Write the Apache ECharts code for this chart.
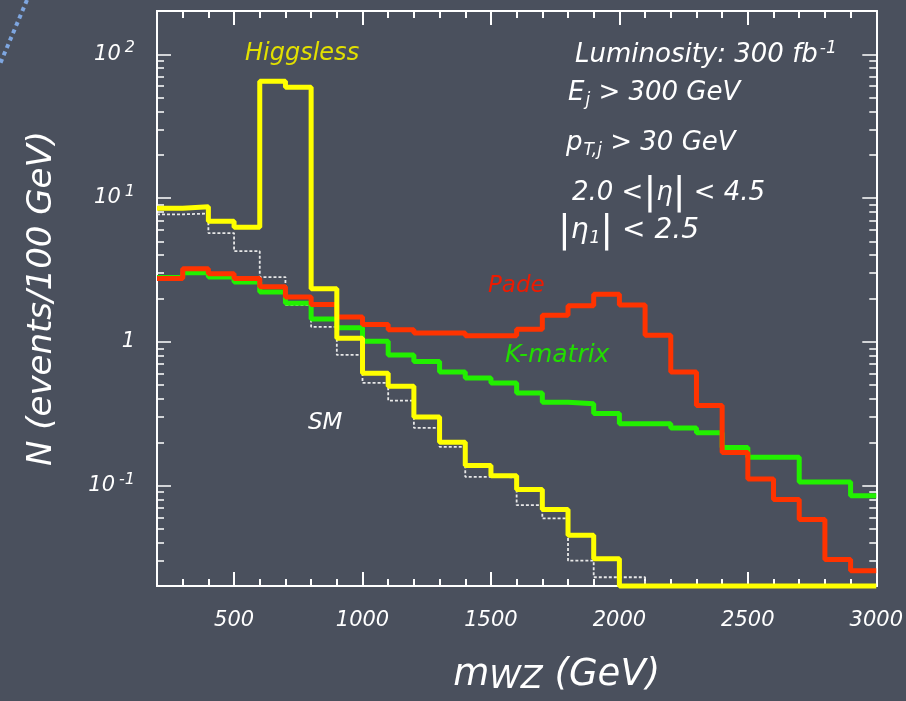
<!DOCTYPE html>
<html>
<head>
<meta charset="utf-8">
<script src="https://cdn.jsdelivr.net/npm/echarts@6/dist/echarts.min.js"></script>
<style>
  html, body { margin: 0; padding: 0; background: #4a505d; }
  #chart { width: 906px; height: 701px; }
</style>
</head>
<body>
<div id="chart"></div>
<script>
// bin edges (GeV), 100 GeV bins from 200 to 3000
var edges = [200, 300, 400, 500, 600, 700, 800, 900, 1000, 1100, 1200, 1300, 1400, 1500,
  1600, 1700, 1800, 1900, 2000, 2100, 2200, 2300, 2400, 2500, 2600, 2700, 2800, 2900, 3000];

// events / 100 GeV, one value per bin (0.02 = at the floor of the plot)
var higgsless = [8.5, 8.7, 6.9, 6.25, 65, 59, 2.34, 1.06, 0.605, 0.49, 0.30, 0.20, 0.138, 0.117,
  0.094, 0.068, 0.045, 0.031, 0.02, 0.02, 0.02, 0.02, 0.02, 0.02, 0.02, 0.02, 0.02, 0.02];
var sm = [7.7, 7.8, 5.7, 4.27, 2.82, 1.8, 1.27, 0.81, 0.517, 0.39, 0.252, 0.186, 0.115, 0.114,
  0.073, 0.059, 0.030, 0.023, 0.023, 0.02, 0.02, 0.02, 0.02, 0.02, 0.02, 0.02, 0.02, 0.02];
var pade = [2.75, 3.22, 2.97, 2.75, 2.41, 2.05, 1.82, 1.49, 1.32, 1.21, 1.15, 1.15, 1.10, 1.10,
  1.22, 1.53, 1.78, 2.14, 1.80, 1.11, 0.615, 0.36, 0.17, 0.111, 0.080, 0.058, 0.0306, 0.0255];
var kmatrix = [2.8, 3.02, 2.82, 2.61, 2.22, 1.85, 1.44, 1.25, 1.01, 0.81, 0.73, 0.615, 0.56, 0.516,
  0.44, 0.38, 0.37, 0.317, 0.269, 0.269, 0.251, 0.233, 0.184, 0.157, 0.157, 0.106, 0.106, 0.085];

// tick values
var xMajor = [500, 1000, 1500, 2000, 2500, 3000];
var xMinor = [300, 400, 600, 700, 800, 900, 1100, 1200, 1300, 1400, 1600, 1700, 1800, 1900,
  2100, 2200, 2300, 2400, 2600, 2700, 2800, 2900];
var yMajor = [0.1, 1, 10, 100];
var yMinor = [0.03, 0.04, 0.05, 0.06, 0.07, 0.08, 0.09,
  0.2, 0.3, 0.4, 0.5, 0.6, 0.7, 0.8, 0.9,
  2, 3, 4, 5, 6, 7, 8, 9,
  20, 30, 40, 50, 60, 70, 80, 90];

var FONT = 'DejaVu Sans';
var white = '#ffffff';

function steps(vals) {
  // point at every left edge, plus the last edge to close the last bin
  var d = vals.map(function (v, i) { return [edges[i], v]; });
  d.push([edges[edges.length - 1], vals[vals.length - 1]]);
  return d;
}

function yLabel(v) {
  var p = Math.round(Math.log10(v));
  if (p === 0) return '1';
  return '10{sup|' + p + '}';
}

function xAxis(pos, major) {
  var ax = {
    type: 'value', position: pos, min: 200, max: 3000,
    axisLine: { show: true, onZero: false, lineStyle: { color: white, width: 2 } },
    splitLine: { show: false },
    axisTick: { show: true, inside: true, length: major ? 14 : 7,
      lineStyle: { color: white, width: 2 }, customValues: major ? xMajor : xMinor },
    axisLabel: { show: false }
  };
  if (major && pos === 'bottom') {
    ax.axisLabel = { show: true, customValues: xMajor, margin: 24, color: white,
      fontFamily: FONT, fontStyle: 'italic', fontSize: 21,
      formatter: function (v) { return String(v); } };
  }
  return ax;
}

function yAxis(pos, major) {
  var ax = {
    type: 'log', logBase: 10, position: pos, min: 0.02, max: 200,
    axisLine: { show: true, onZero: false, lineStyle: { color: white, width: 2 } },
    splitLine: { show: false },
    axisTick: { show: true, inside: true, length: major ? 14 : 7,
      lineStyle: { color: white, width: 1.5 }, customValues: major ? yMajor : yMinor },
    axisLabel: { show: false }
  };
  if (major && pos === 'left') {
    ax.axisLabel = { show: true, customValues: yMajor, margin: 22, color: white,
      fontFamily: FONT, fontStyle: 'italic', fontSize: 21, formatter: yLabel,
      rich: { sup: { fontFamily: FONT, fontStyle: 'italic', fontSize: 16, color: white,
        verticalAlign: 'top', padding: [0, 0, 12, 4] } } };
  }
  return ax;
}

function stepSeries(name, vals, color, width, dash) {
  return {
    name: name, type: 'line', step: 'end', xAxisIndex: 0, yAxisIndex: 0,
    data: steps(vals), symbol: 'none', clip: false, silent: true,
    lineStyle: { color: color, width: width, type: dash || 'solid' }
  };
}

function txt(x, y, s, color, size, rich) {
  return {
    type: 'text', left: x, top: y, silent: true,
    style: { text: s, fill: color, font: 'italic ' + size + 'px "' + FONT + '"', rich: rich }
  };
}

var subRich = {
  sub: { fill: white, font: 'italic 17px "' + FONT + '"', padding: [16, 0, 0, 1] },
  sup: { fill: white, font: 'italic 17px "' + FONT + '"', padding: [0, 0, 14, 2] },
  bar: { fill: white, font: '38px "DejaVu Sans"' }
};

var chart = echarts.init(document.getElementById('chart'));
chart.setOption({
  backgroundColor: '#4a505d',
  animation: false,
  grid: { left: 157, right: 25, top: 11, bottom: 113, show: false },
  xAxis: [
    Object.assign(xAxis('bottom', false), {
      name: 'm{sub|WZ} (GeV)', nameLocation: 'middle', nameGap: 68,
      nameTextStyle: { color: white, fontFamily: FONT, fontStyle: 'italic', fontSize: 37,
        padding: [0, 0, 0, 80],
        rich: { sub: { color: white, fontFamily: FONT, fontStyle: 'italic', fontSize: 32,
          padding: [10, 0, 0, 0] } } }
    }),
    xAxis('bottom', true),
    xAxis('top', false),
    xAxis('top', true)
  ],
  yAxis: [
    Object.assign(yAxis('left', false), {
      name: 'N (events/100 GeV)', nameLocation: 'middle', nameGap: 98, nameRotate: 90,
      nameTextStyle: { color: white, fontFamily: FONT, fontStyle: 'italic', fontSize: 34 }
    }),
    yAxis('left', true),
    yAxis('right', false),
    yAxis('right', true)
  ],
  series: [
    stepSeries('SM', sm, '#e8e8e8', 1.8, [3, 2]),
    stepSeries('K-matrix', kmatrix, '#22f000', 5),
    stepSeries('Pade', pade, '#ff3300', 5),
    stepSeries('Higgsless', higgsless, '#ffff00', 5)
  ],
  graphic: [
    { type: 'line', silent: true, shape: { x1: 27, y1: 0, x2: 0, y2: 64 },
      style: { stroke: '#7ea6e0', lineWidth: 4, lineDash: [4, 4] } },
    txt(245, 42, 'Higgsless', '#e2e000', 24),
    txt(488, 275, 'Pade', '#ee1a00', 23),
    txt(505, 343, 'K-matrix', '#22dd00', 25),
    txt(308, 412, 'SM', white, 23),
    txt(575, 40, 'Luminosity: 300 fb{sup|-1}', white, 26, subRich),
    txt(568, 80, 'E{sub|j} > 300 GeV', white, 26, subRich),
    txt(566, 130, 'p{sub|T,j} > 30 GeV', white, 26, subRich),
    txt(572, 174, '2.0 <{bar||}η{bar||} < 4.5', white, 26, subRich),
    txt(558, 212, '{bar||}η{sub|1}{bar||} < 2.5', white, 28, subRich)
  ]
});
</script>
</body>
</html>
